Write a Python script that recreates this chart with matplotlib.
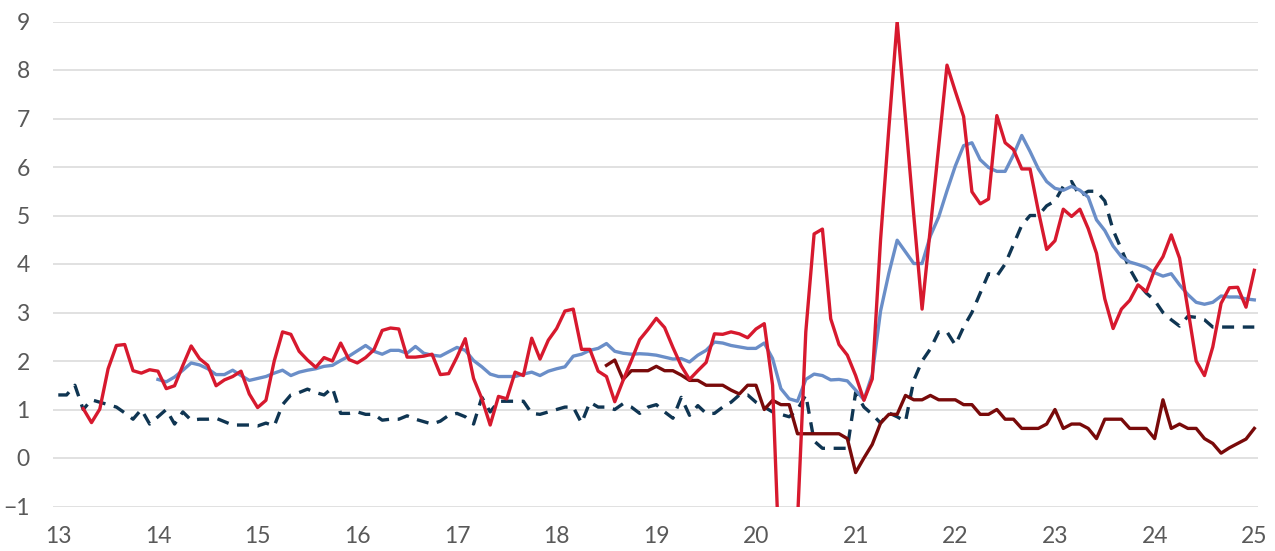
import numpy as np
import matplotlib
matplotlib.use("Agg")
import matplotlib.pyplot as plt

# ---- data (monthly, value in %) ----
red_start = (2013, 4)
red = [1.02, 0.73, 1.01, 1.84, 2.32, 2.34, 1.80, 1.75, 1.82,
       1.79, 1.43, 1.49, 1.91, 2.31, 2.05, 1.91, 1.49, 1.61, 1.68, 1.79, 1.32,
       1.04, 1.19, 2.00, 2.60, 2.55, 2.20, 2.02, 1.87, 2.07, 2.00, 2.37, 2.03,
       1.96, 2.07, 2.23, 2.63, 2.68, 2.66, 2.08, 2.08, 2.10, 2.14, 1.72, 1.74,
       2.08, 2.46, 1.64, 1.22, 0.68, 1.27, 1.22, 1.77, 1.70, 2.47, 2.04, 2.43,
       2.67, 3.03, 3.07, 2.24, 2.24, 1.79, 1.68, 1.16, 1.60, 2.01, 2.44, 2.65,
       2.88, 2.69, 2.28, 1.90, 1.62, 1.80, 1.97, 2.56, 2.55, 2.60, 2.56, 2.48,
       2.66, 2.77, 1.50, -3.00, -3.00, -1.30, 2.60, 4.62, 4.72, 2.87, 2.34, 2.12,
       1.70, 1.19, 1.63, 4.50, 6.80, 9.00, 7.00, 5.00, 3.07, 4.75, 6.42, 8.10,
       7.56, 7.04, 5.49, 5.24, 5.34, 7.06, 6.50, 6.36, 5.96, 5.96, 5.09, 4.30,
       4.48, 5.13, 4.98, 5.13, 4.73, 4.22, 3.28, 2.67, 3.07, 3.25, 3.57, 3.43,
       3.88, 4.15, 4.60, 4.12, 3.07, 2.00, 1.70, 2.29, 3.19, 3.51, 3.52, 3.11,
       3.87]

blue_start = (2014, 1)
blue = [1.62, 1.57, 1.67, 1.81, 1.96, 1.92, 1.84, 1.72, 1.72, 1.81, 1.70, 1.60,
        1.64, 1.68, 1.75, 1.81, 1.70, 1.77, 1.81, 1.84, 1.89, 1.91, 2.01, 2.10,
        2.21, 2.32, 2.20, 2.14, 2.22, 2.22, 2.16, 2.30, 2.16, 2.12, 2.10, 2.19,
        2.28, 2.22, 2.01, 1.88, 1.73, 1.68, 1.68, 1.68, 1.73, 1.77, 1.70, 1.79,
        1.84, 1.88, 2.10, 2.14, 2.22, 2.26, 2.36, 2.20, 2.16, 2.14, 2.15, 2.14,
        2.12, 2.08, 2.04, 2.05, 1.98, 2.12, 2.22, 2.39, 2.37, 2.32, 2.29, 2.26,
        2.26, 2.37, 2.05, 1.43, 1.22, 1.17, 1.62, 1.73, 1.70, 1.61, 1.62, 1.59,
        1.40, 1.20, 1.72, 3.03, 3.81, 4.49, 4.25, 4.01, 4.01, 4.58, 4.97, 5.51,
        6.02, 6.44, 6.50, 6.15, 5.99, 5.91, 5.91, 6.25, 6.65, 6.32, 5.96, 5.70,
        5.56, 5.52, 5.60, 5.52, 5.38, 4.91, 4.69, 4.37, 4.15, 4.04, 3.99, 3.93,
        3.82, 3.75, 3.80, 3.57, 3.37, 3.21, 3.17, 3.21, 3.34, 3.32, 3.32, 3.28,
        3.26]

dash_start = (2013, 1)
dash = [1.30, 1.30, 1.50, 1.00, 1.20, 1.15, 1.10, 1.05, 0.93, 0.80, 1.00, 0.70,
        0.85, 1.00, 0.70, 0.95, 0.78, 0.80, 0.80, 0.82, 0.75, 0.68, 0.68, 0.68,
        0.66, 0.72, 0.66, 1.10, 1.30, 1.35, 1.42, 1.35, 1.30, 1.45, 0.92, 0.92,
        0.95, 0.90, 0.90, 0.78, 0.80, 0.80, 0.87, 0.80, 0.75, 0.70, 0.76, 0.88,
        0.92, 0.85, 0.70, 1.25, 0.95, 1.17, 1.17, 1.17, 1.17, 0.92, 0.90, 0.95,
        1.00, 1.05, 1.05, 0.72, 1.15, 1.05, 1.05, 1.00, 1.12, 1.05, 0.92, 1.05,
        1.10, 0.95, 0.82, 1.25, 0.88, 1.08, 0.92, 0.92, 1.05, 1.15, 1.30, 1.30,
        1.15, 1.05, 0.95, 0.90, 0.85, 1.00, 1.30, 0.35, 0.20, 0.20, 0.20, 0.20,
        1.35, 1.05, 0.90, 0.72, 0.93, 0.85, 0.75, 1.60, 2.00, 2.25, 2.60, 2.60,
        2.33, 2.70, 3.00, 3.40, 3.80, 3.75, 4.00, 4.40, 4.80, 5.00, 5.00, 5.20,
        5.30, 5.60, 5.70, 5.40, 5.50, 5.50, 5.30, 4.70, 4.30, 3.90, 3.60, 3.40,
        3.25, 3.00, 2.85, 2.72, 2.92, 2.90, 2.85, 2.70, 2.70, 2.70, 2.70, 2.70,
        2.70]

dark_start = (2018, 7)
dark = [1.91, 2.02, 1.62, 1.80, 1.80, 1.80,
        1.89, 1.80, 1.80, 1.71, 1.60, 1.60, 1.50, 1.50, 1.50, 1.40, 1.32, 1.50,
        1.50, 1.00, 1.19, 1.10, 1.10, 0.50, 0.50, 0.50, 0.50, 0.50, 0.50, 0.40,
        -0.30, 0.00, 0.28, 0.72, 0.90, 0.90, 1.29, 1.20, 1.20, 1.29, 1.20, 1.20,
        1.20, 1.10, 1.10, 0.90, 0.90, 1.00, 0.80, 0.80, 0.61, 0.61, 0.61, 0.70,
        1.00, 0.61, 0.70, 0.70, 0.61, 0.40, 0.80, 0.80, 0.80, 0.61, 0.61, 0.61,
        0.40, 1.20, 0.61, 0.70, 0.61, 0.61, 0.40, 0.30, 0.10, 0.21, 0.30, 0.39,
        0.61]

x_ticks = list(range(13, 26))
x_labels = [str(t) for t in x_ticks]
y_ticks = list(range(-1, 10))


def xs(start, n):
    m0 = (start[0] - 2013) * 12 + start[1] - 1
    return 13 + (m0 + np.arange(n)) / 12.0


plt.rcParams['font.family'] = ['Lato', 'DejaVu Sans']
fig = plt.figure(figsize=(12.75, 5.51), dpi=100)
ax = fig.add_axes([53.3 / 1275, (551 - 506.5) / 551, (1258.3 - 53.3) / 1275, 485 / 551])

ax.plot(xs(dash_start, len(dash)), dash, color='#0f3552', lw=2.4,
        dashes=(3.6, 2.6), dash_capstyle='butt', zorder=3)
ax.plot(xs(blue_start, len(blue)), blue, color='#6a8ec8', lw=2.4, zorder=4)
ax.plot(xs(dark_start, len(dark)), dark, color='#790a0a', lw=2.4, zorder=5)
ax.plot(xs(red_start, len(red)), red, color='#d7192e', lw=2.4, zorder=6)

ax.set_xlim(12.95, 25.04)
ax.set_ylim(-1, 9)
ax.set_yticks(y_ticks)
ax.set_xticks(x_ticks)
ax.set_xticklabels(x_labels)
ax.grid(axis='y', color='#d9d9d9', lw=1.1, zorder=0)
ax.set_axisbelow(True)
for s in ax.spines.values():
    s.set_visible(False)
ax.tick_params(axis='both', length=0, labelsize=16.5, labelcolor='#595959')
ax.tick_params(axis='y', pad=17)
ax.tick_params(axis='x', pad=14)

fig.savefig('out.png', dpi=100)
